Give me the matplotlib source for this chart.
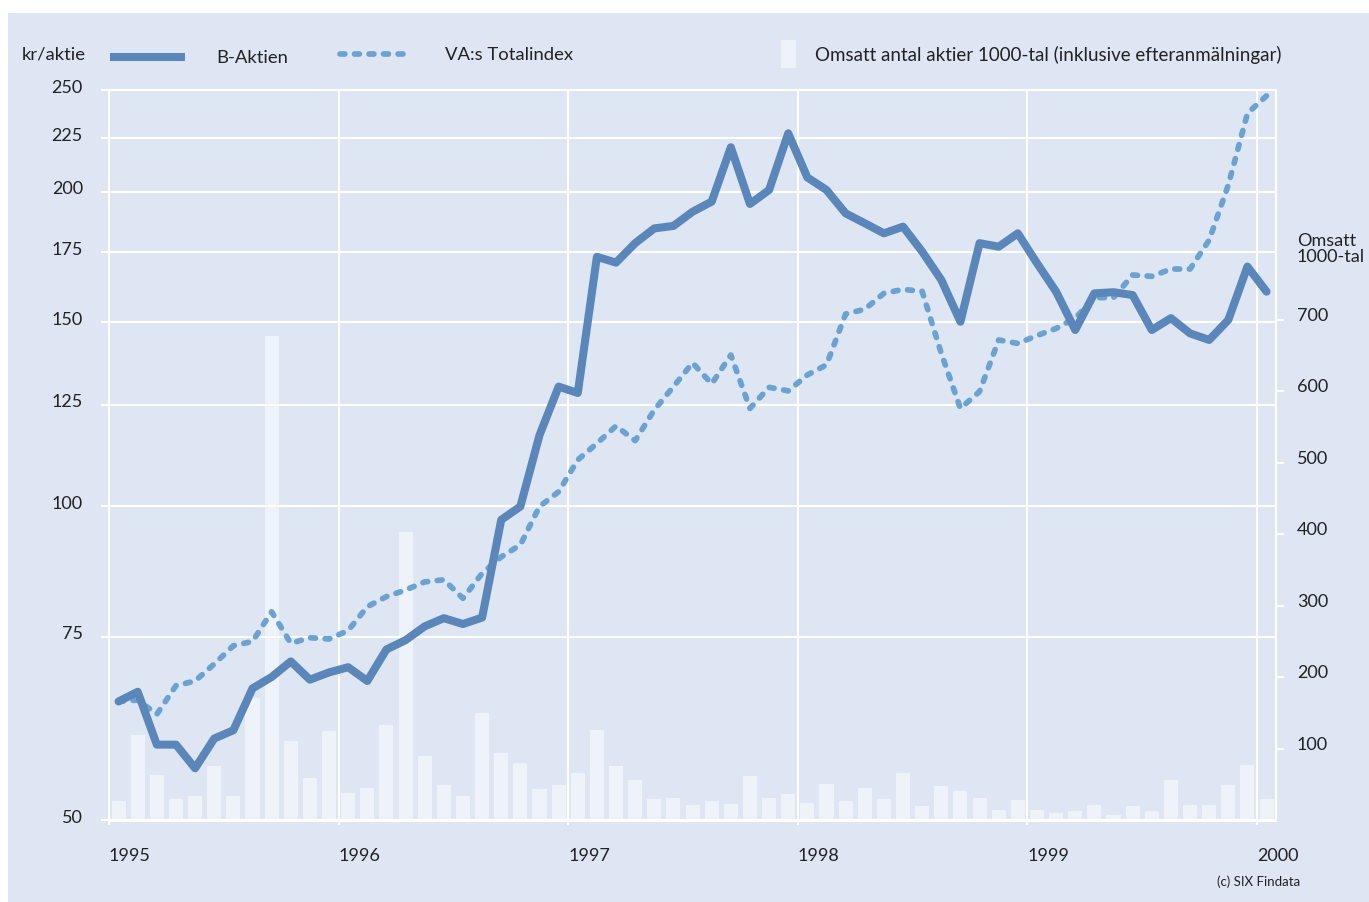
import matplotlib
matplotlib.use("Agg")
import matplotlib.pyplot as plt
import matplotlib.transforms as mtrans
import pandas as pd
from matplotlib.lines import Line2D
from matplotlib.patches import Rectangle
from matplotlib.ticker import NullLocator

# ---------------- data ----------------
months = pd.date_range("1995-01-01", "2000-01-01", freq="MS")  # 61 months

b_aktien = [65.0, 66.4, 59.1, 59.1, 56.1, 59.9, 61.0, 66.9, 68.6, 71.0, 68.2, 69.3,
            70.1, 68.0, 72.9, 74.4, 76.7, 78.1, 77.1, 78.2, 97.0, 99.9, 116.9, 130.1,
            128.3, 173.2, 171.0, 178.5, 184.4, 185.4, 191.3, 195.6, 220.5, 194.6, 200.7, 227.4,
            206.3, 200.7, 190.6, 186.5, 182.4, 185.1, 175.2, 164.6, 150.1, 178.5, 177.1, 182.4,
            170.8, 160.4, 147.4, 159.8, 160.2, 159.2, 147.4, 151.3, 146.3, 144.2, 150.7, 169.5,
            160.4]

va_totalindex = [65.0, 65.2, 63.2, 67.3, 68.0, 70.6, 73.5, 74.2, 79.2, 73.9, 74.8, 74.6,
                 76.0, 80.1, 81.9, 83.1, 84.6, 85.0, 81.6, 86.2, 89.4, 91.8, 99.9, 103.2,
                 110.7, 114.8, 119.3, 115.5, 123.6, 130.1, 137.1, 130.9, 139.5, 124.0, 129.9, 128.9,
                 133.5, 136.5, 152.7, 154.3, 159.8, 161.2, 160.5, 140.0, 124.0, 128.7, 144.2, 143.1,
                 145.6, 147.9, 151.3, 158.3, 158.3, 166.4, 165.9, 168.6, 168.6, 179.7, 202.9, 237.6,
                 247.0]

omsatt = [27, 120, 63, 30, 34, 76, 34, 171, 678, 111, 59, 125,
          39, 45, 134, 404, 90, 49, 34, 150, 94, 81, 44, 49,
          66, 126, 76, 56, 30, 31, 21, 27, 23, 62, 31, 37,
          24, 51, 27, 45, 30, 67, 20, 48, 41, 32, 14, 28,
          15, 10, 13, 21, 8, 20, 13, 57, 22, 21, 50, 77,
          30]

left_ticks = [50, 75, 100, 125, 150, 175, 200, 225, 250]
right_ticks = [100, 200, 300, 400, 500, 600, 700]
years = [1995, 1996, 1997, 1998, 1999, 2000]

# ---------------- style ----------------
BG = "#dde6f2"
BAR = "#eef3f9"
SOLID = "#5b86b9"
DASHED = "#6ca2d0"
TEXT = "#222222"
plt.rcParams["font.family"] = ["Lato", "DejaVu Sans"]
FS = 13
LFS = 13.3

W, H = 1369, 902
fig = plt.figure(figsize=(W / 100, H / 100), dpi=100, facecolor="white")


def fx(px):
    return px / W


def fy(py):
    return 1 - py / H


fig.patches.append(Rectangle((fx(8), 0), 1 - fx(8), fy(13), transform=fig.transFigure,
                             facecolor=BG, edgecolor="none", zorder=-10))

rect = [fx(109), fy(820.5), fx(1276) - fx(109), fy(90.3) - fy(820.5)]
ax_bar = fig.add_axes(rect)
ax_bar.set_facecolor(BG)

x = months.year + (months.month - 0.5) / 12.0
ax_bar.bar(x, omsatt, width=0.061, color=BAR, zorder=1)
ax_bar.set_ylim(0, 1021)
ax_bar.set_xlim(1995, 2000 + 19 / 229.6)

ax = ax_bar.twinx()
ax_bar.yaxis.tick_right()
ax.yaxis.tick_left()

# bar axis (right): white tick marks, labels placed beside them
ax_bar.set_yticks(right_ticks)
ax_bar.tick_params(axis="y", direction="out", length=5.8, width=1.5, color="white",
                   labelright=False, labelleft=False)
right_trans = mtrans.blended_transform_factory(ax_bar.transAxes, ax_bar.transData) + \
    mtrans.ScaledTranslation(21 / 100, 4 / 100, fig.dpi_scale_trans)
for t in right_ticks:
    ax_bar.text(1.0, t, str(t), transform=right_trans, ha="left", va="center",
                fontsize=FS, color=TEXT, clip_on=False)

ax_bar.set_xticks(years)
ax_bar.set_xticklabels([str(y) for y in years])
ax_bar.tick_params(axis="x", direction="out", length=3, width=1.5, color="white",
                   labelcolor=TEXT, labelsize=FS, pad=17)
for lab in ax_bar.get_xticklabels():
    lab.set_ha("left")
ax_bar.grid(axis="x", color="white", lw=1.5)
ax_bar.grid(axis="y", visible=False)
for s in ax_bar.spines.values():
    s.set_visible(False)

# line axis (left, log)
ax.set_yscale("log")
ax.set_ylim(50, 250)
ax.set_yticks(left_ticks)
ax.set_yticklabels([str(t) for t in left_ticks])
ax.yaxis.set_minor_locator(NullLocator())
ax.tick_params(axis="y", which="both", direction="out", length=5.8, width=1.5, color="white",
               labelcolor=TEXT, labelsize=FS, pad=13)
ax.tick_params(axis="y", which="minor", length=0)
ax.grid(axis="y", color="white", lw=1.5)
for s in ax.spines.values():
    s.set_color("white")
    s.set_linewidth(1.5)

# left tick labels sit slightly above their gridlines in the reference
up = mtrans.ScaledTranslation(0, 4 / 100, fig.dpi_scale_trans)
for lab in ax.get_yticklabels():
    lab.set_transform(lab.get_transform() + up)

ax.plot(x, va_totalindex, color=DASHED, lw=4.1, dashes=(0.85, 1.7),
        dash_capstyle="round", dash_joinstyle="round", zorder=3)
ax.plot(x, b_aktien, color=SOLID, lw=5.8, solid_joinstyle="round",
        solid_capstyle="round", zorder=4)

# ---------------- legend / annotations ----------------
fig.text(fx(22), fy(55), "kr/aktie", ha="left", va="center", fontsize=LFS, color=TEXT)
fig.add_artist(Line2D([fx(110), fx(185)], [fy(57), fy(57)], transform=fig.transFigure,
                      color=SOLID, lw=5.8, solid_capstyle="butt"))
fig.text(fx(216), fy(58), "B-Aktien", ha="left", va="center", fontsize=LFS, color=TEXT)
fig.add_artist(Line2D([fx(340), fx(410)], [fy(54), fy(54)], transform=fig.transFigure,
                      color=DASHED, lw=4.1, dashes=(0.85, 1.7), dash_capstyle="round"))
fig.text(fx(445), fy(55), "VA:s Totalindex", ha="left", va="center", fontsize=LFS, color=TEXT)
fig.patches.append(Rectangle((fx(781), fy(68)), fx(796) - fx(781), fy(40) - fy(68),
                             transform=fig.transFigure, facecolor=BAR, edgecolor="none"))
fig.text(fx(815), fy(55), "Omsatt antal aktier 1000-tal (inklusive efteranmälningar)",
         ha="left", va="center", fontsize=13.5, color=TEXT)
fig.text(fx(1297), fy(233), "Omsatt\n1000-tal", ha="left", va="top", fontsize=FS,
         color=TEXT, linespacing=1.0)
fig.text(fx(1300), fy(882), "(c) SIX Findata", ha="right", va="center", fontsize=9.5,
         color=TEXT)

fig.savefig("out.png", dpi=100, facecolor="white")
